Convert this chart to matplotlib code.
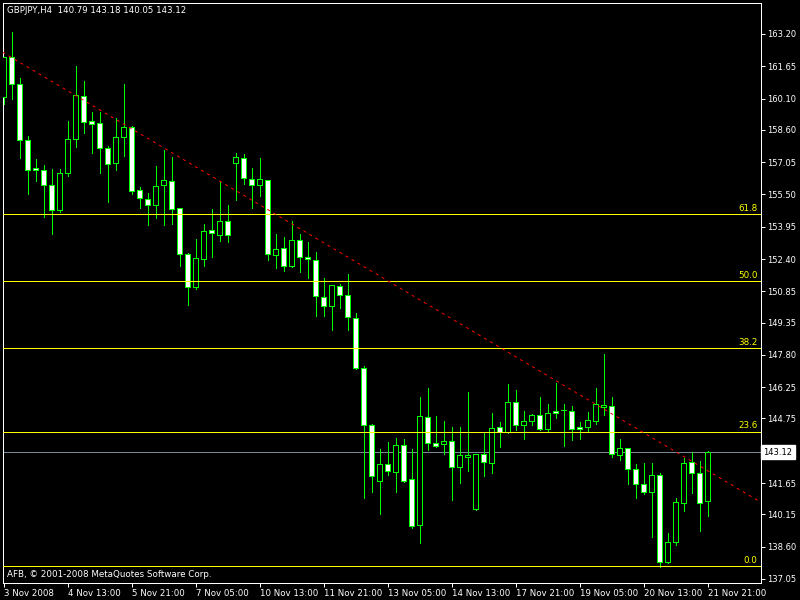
import matplotlib.pyplot as plt

plt.rcParams["font.family"] = "DejaVu Sans"

# GBPJPY H4 candles
opens = [160.19, 162.08, 160.78, 158.10, 156.75, 156.66, 155.94, 154.74, 156.51, 158.14,
         160.21, 159.01, 158.91, 157.71, 156.99, 158.24, 158.72, 155.70, 155.26, 154.98,
         155.94, 156.13, 154.84, 152.63, 151.07, 152.42, 153.79, 153.57, 154.21, 156.99,
         157.23, 156.22, 155.94, 156.18, 152.58, 152.92, 152.08, 153.30, 152.49, 152.34,
         150.57, 150.13, 151.09, 150.66, 149.56, 147.16, 144.42, 141.77, 142.55, 142.20,
         143.46, 141.83, 139.65, 144.81, 143.56, 143.51, 143.66, 142.44, 142.92, 140.42,
         143.03, 142.63, 144.33, 144.09, 145.53, 144.42, 144.62, 144.90, 144.23, 145.11,
         145.14, 145.10, 144.33, 144.33, 144.62, 145.32, 145.34, 142.98, 143.32, 142.31,
         141.59, 141.21, 142.03, 137.85, 138.81, 140.68, 142.65, 142.12, 140.79]
highs = [162.09, 163.28, 161.07, 158.30, 157.20, 156.91, 156.72, 156.72, 159.01, 161.66,
         160.94, 159.44, 159.44, 157.82, 159.15, 160.80, 158.78, 155.84, 155.55, 156.86,
         157.62, 157.29, 154.86, 152.68, 153.36, 154.08, 154.80, 156.14, 154.99, 157.49,
         157.44, 156.77, 157.25, 156.20, 153.60, 153.46, 154.23, 153.60, 153.22, 152.73,
         151.48, 151.16, 151.19, 151.67, 149.80, 147.25, 144.47, 143.29, 143.62, 143.81,
         143.77, 143.29, 145.78, 146.21, 144.87, 144.63, 144.33, 144.33, 146.02, 143.05,
         144.09, 145.01, 144.57, 146.41, 146.12, 145.11, 144.97, 145.78, 145.45, 146.45,
         145.45, 145.35, 144.57, 145.05, 146.20, 147.85, 145.77, 143.77, 143.34, 142.55,
         142.60, 142.60, 142.12, 139.24, 140.92, 142.84, 143.13, 142.70, 143.18]
lows = [159.84, 160.09, 157.26, 155.53, 156.16, 154.43, 153.62, 154.67, 156.40, 157.79,
        158.46, 157.50, 156.54, 155.15, 156.68, 157.36, 155.53, 154.86, 154.05, 154.38,
        154.05, 154.10, 152.08, 150.21, 150.98, 152.08, 152.50, 153.28, 153.21, 155.23,
        156.01, 154.86, 155.44, 152.37, 151.99, 151.84, 152.04, 151.79, 151.51, 149.68,
        149.68, 149.01, 150.04, 149.01, 147.14, 140.95, 141.24, 140.18, 142.05, 141.24,
        141.72, 139.51, 138.79, 143.25, 143.40, 143.03, 140.85, 141.67, 142.25, 140.37,
        142.01, 142.15, 143.40, 144.04, 144.19, 143.78, 144.42, 144.19, 144.12, 144.76,
        143.44, 143.73, 143.78, 144.16, 144.47, 144.90, 142.89, 142.74, 141.62, 140.95,
        141.14, 139.05, 137.64, 137.83, 138.70, 140.33, 141.19, 139.37, 140.05]
closes = [162.08, 160.78, 158.10, 156.66, 156.66, 155.94, 154.74, 156.51, 158.14, 160.26,
          158.99, 158.86, 157.71, 156.94, 158.24, 158.72, 155.68, 155.31, 154.98, 155.89,
          156.18, 154.79, 152.63, 151.07, 152.44, 153.73, 153.63, 154.21, 153.57, 157.28,
          156.27, 155.94, 156.22, 152.63, 152.87, 152.08, 153.30, 152.49, 152.39, 150.61,
          150.13, 151.14, 150.66, 149.61, 147.16, 144.46, 142.01, 142.55, 142.25, 143.46,
          141.77, 139.61, 144.86, 143.56, 143.44, 143.66, 142.44, 142.98, 143.01, 143.03,
          142.65, 144.28, 144.09, 145.53, 144.42, 144.62, 144.90, 144.23, 145.00, 145.00,
          145.14, 144.23, 144.23, 144.66, 145.43, 145.40, 143.03, 143.32, 142.31, 141.59,
          141.21, 142.03, 137.85, 138.81, 140.73, 142.60, 142.12, 140.68, 143.12]

time_labels = ["3 Nov 2008", "4 Nov 13:00", "5 Nov 21:00", "7 Nov 05:00", "10 Nov 13:00",
               "11 Nov 21:00", "13 Nov 05:00", "14 Nov 13:00", "17 Nov 21:00",
               "19 Nov 05:00", "20 Nov 13:00", "21 Nov 21:00"]
price_ticks = [163.20, 161.65, 160.10, 158.60, 157.05, 155.50, 153.95, 152.40, 150.85,
               149.35, 147.80, 146.25, 144.75, 141.65, 140.15, 138.60, 137.05]

fib_names = ["0.0", "23.6", "38.2", "50.0", "61.8"]
fib_prices = [137.66, 144.12, 148.11, 151.34, 154.56]

# trendline anchors (bar index, price)
trend_a = (0, 162.30)
trend_b = (65, 147.49)
bid = 143.12

GREEN = "#00ff00"
PX = 0.72  # one pixel in points at 100 dpi

fig = plt.figure(figsize=(8, 6), dpi=100, facecolor="black")
ax = fig.add_axes([2.5 / 800, 17.5 / 600, 758 / 800, 580 / 600], facecolor="black")

x = list(range(len(opens)))
ax.axhline(bid, color="#778899", lw=PX, zorder=1)

# candles: wick + body (hollow = up, white = down)
ax.vlines(x, lows, highs, color=GREEN, lw=PX, zorder=2, antialiased=False)
bottoms = [min(o, c) for o, c in zip(opens, closes)]
heights = [abs(c - o) for o, c in zip(opens, closes)]
faces = ["black" if c >= o else "white" for o, c in zip(opens, closes)]
ax.bar(x, heights, bottom=bottoms, width=0.55, color=faces, edgecolor=GREEN,
       linewidth=PX, zorder=3, antialiased=False)

# fibo levels
for name, lvl in zip(fib_names, fib_prices):
    ax.axhline(lvl, color="#ffff00", lw=PX, zorder=4)
    ax.annotate(name, xy=(1, lvl), xycoords=("axes fraction", "data"),
                xytext=(-2, 1), textcoords="offset points", ha="right", va="bottom",
                color="#ffff00", fontsize=6.3)

ax.axline(trend_a, trend_b, color="red", lw=PX, dashes=(3, 4), zorder=4)

ax.set_xlim(-0.125, 94.625)
ax.set_ylim(136.88, 164.71)

ax.yaxis.tick_right()
ax.set_yticks(price_ticks)
ax.set_yticklabels([f"{v:.2f}" for v in price_ticks])
ax.tick_params(axis="y", colors="white", length=3, width=PX, pad=2, labelsize=6)

ax.set_xticks(range(0, len(opens), 8))
ax.set_xticklabels(time_labels)
ax.tick_params(axis="x", colors="white", length=3, width=PX, pad=1.5, labelsize=6.2)
for lbl in ax.get_xticklabels():
    lbl.set_horizontalalignment("left")

for sp in ax.spines.values():
    sp.set_color("white")
    sp.set_linewidth(PX)

ax.annotate(f"{bid:.2f}", xy=(1, bid), xycoords=("axes fraction", "data"),
            xytext=(2, 0), textcoords="offset points", ha="left", va="center",
            color="black", fontsize=6,
            bbox=dict(boxstyle="square,pad=0.3", fc="white", ec="white"))

fig.text(7 / 800, 1 - 10.5 / 600,
         f"GBPJPY,H4  {opens[-1]:.2f} {highs[-1]:.2f} {lows[-1]:.2f} {closes[-1]:.2f}",
         color="white", fontsize=6.2, va="center", ha="left")
fig.text(7 / 800, 1 - 574.5 / 600, "AFB, \u00a9 2001-2008 MetaQuotes Software Corp.",
         color="white", fontsize=6.3, va="center", ha="left")

fig.savefig("out.png", dpi=100, facecolor="black")
